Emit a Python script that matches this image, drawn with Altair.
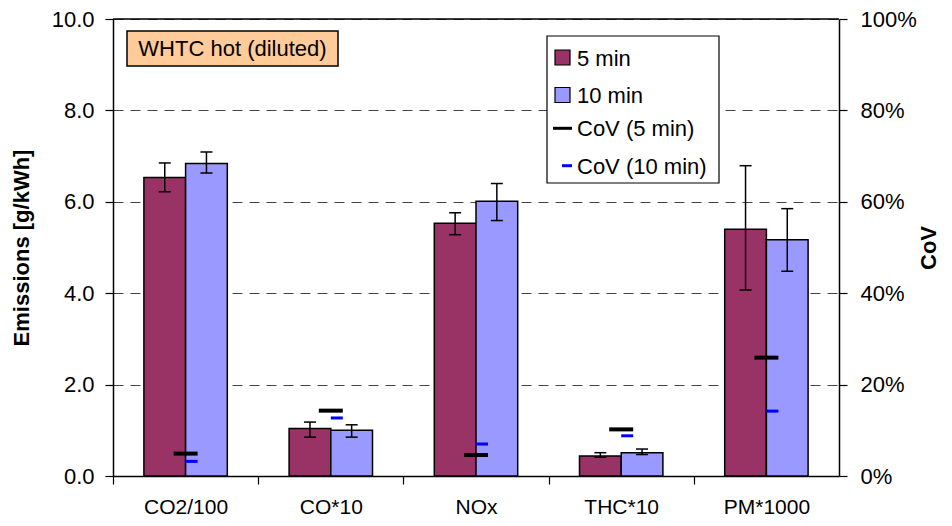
import altair as alt
import pandas as pd

categories = ["CO2/100", "CO*10", "NOx", "THC*10", "PM*1000"]
series = ["5 min", "10 min"]
mean_5 = [6.53, 1.04, 5.53, 0.44, 5.40]
mean_10 = [6.84, 1.00, 6.01, 0.51, 5.17]
err_lo_5 = [6.22, 0.85, 5.28, 0.41, 4.07]
err_hi_5 = [6.85, 1.18, 5.76, 0.51, 6.79]
err_lo_10 = [6.63, 0.85, 5.59, 0.47, 4.48]
err_hi_10 = [7.09, 1.12, 6.40, 0.59, 5.85]
cov_5 = [0.049, 0.143, 0.046, 0.102, 0.259]
cov_10 = [0.032, 0.127, 0.070, 0.088, 0.142]
left_ticks = [0, 2, 4, 6, 8, 10]
right_ticks = [0, 0.2, 0.4, 0.6, 0.8, 1.0]
legend_labels = ["5 min", "10 min", "CoV (5 min)", "CoV (10 min)"]
colors = ["#993366", "#9999FF"]
cov_colors = ["#000000", "#0000FF"]

FONT = "Liberation Sans"
W, H = 726, 457
TOP = 11
# y of annotation items given relative to the reference plot top (16px page)
dy = -(TOP - 8)

rows = []
for i, c in enumerate(categories):
    rows.append(dict(cat=c, series="5 min", mean=mean_5[i], lo=err_lo_5[i], hi=err_hi_5[i], cov=cov_5[i]))
    rows.append(dict(cat=c, series="10 min", mean=mean_10[i], lo=err_lo_10[i], hi=err_hi_10[i], cov=cov_10[i]))
df = pd.DataFrame(rows)

step = W / len(categories)
xscale = alt.Scale(domain=categories, paddingInner=0.4256, paddingOuter=0.2128)
xoff = alt.XOffset("series:N", scale=alt.Scale(domain=series, paddingInner=0, paddingOuter=0))
x_enc = alt.X("cat:N", scale=xscale, sort=categories, title=None,
              axis=alt.Axis(labelFontSize=21, labelFont=FONT, labelColor="#000", labelAngle=0,
                            tickSize=8, tickColor="#000", tickWidth=1.2, tickOffset=-step / 2,
                            labelOffset=step / 2, labelPadding=12, domainColor="#000",
                            domainWidth=1.5, grid=False))
yscale = alt.Scale(domain=[0, 10], nice=False)
y_axis = alt.Axis(values=left_ticks, format=".1f", labelFontSize=22, labelFont=FONT,
                  labelColor="#000", tickSize=8, tickColor="#000", tickWidth=1.2,
                  labelPadding=11, domainColor="#000", domainWidth=1.5,
                  grid=True, gridDash=[10, 7], gridColor="#444", gridWidth=1,
                  title="Emissions [g/kWh]", titleFont=FONT, titleFontSize=22,
                  titleFontWeight="bold", titleColor="#000", titlePadding=18)

base = alt.Chart(df)
bars = base.mark_bar(stroke="#000", strokeWidth=1.5, opacity=1).encode(
    x=x_enc, xOffset=xoff,
    y=alt.Y("mean:Q", scale=yscale, axis=y_axis),
    fill=alt.Fill("series:N", scale=alt.Scale(domain=series, range=colors), legend=None),
)
err_rule = base.mark_rule(color="#000", strokeWidth=1.5, opacity=1).encode(
    x=alt.X("cat:N", scale=xscale, sort=categories), xOffset=xoff,
    y=alt.Y("lo:Q", scale=yscale), y2="hi:Q")
cap_lo = base.mark_tick(color="#000", size=12, thickness=1.5, opacity=1).encode(
    x=alt.X("cat:N", scale=xscale, sort=categories), xOffset=xoff,
    y=alt.Y("lo:Q", scale=yscale))
cap_hi = base.mark_tick(color="#000", size=12, thickness=1.5, opacity=1).encode(
    x=alt.X("cat:N", scale=xscale, sort=categories), xOffset=xoff,
    y=alt.Y("hi:Q", scale=yscale))
left = alt.layer(bars, err_rule, cap_lo, cap_hi)

cscale = alt.Scale(domain=[0, 1], nice=False)
r_axis = alt.Axis(orient="right", values=right_ticks, format=".0%", labelFontSize=22,
                  labelFont=FONT, labelColor="#000", tickSize=8, tickColor="#000",
                  tickWidth=1.2, labelPadding=13, domainColor="#000", domainWidth=1.5,
                  grid=False, title="CoV", titleFont=FONT, titleFontSize=22,
                  titleFontWeight="bold", titleColor="#000", titleAngle=270, titlePadding=24)
cov5 = alt.Chart(df[df.series == "5 min"]).mark_tick(color=cov_colors[0], size=24, thickness=4, opacity=1).encode(
    x=alt.X("cat:N", scale=xscale, sort=categories),
    y=alt.Y("cov:Q", scale=cscale, axis=r_axis))
cov10 = alt.Chart(df[df.series == "10 min"]).mark_tick(color=cov_colors[1], size=12, thickness=3, xOffset=6, opacity=1).encode(
    x=alt.X("cat:N", scale=xscale, sort=categories),
    y=alt.Y("cov:Q", scale=cscale, axis=r_axis))
right = alt.layer(cov5, cov10)

one = pd.DataFrame({"k": [0]})
top_line = alt.Chart(one).mark_rule(color="#000", strokeWidth=1.5).encode(
    x=alt.value(0), x2=alt.value(W), y=alt.value(0))

# annotation box
ann_box = alt.Chart(one).mark_rect(fill="#FFCC99", stroke="#000", strokeWidth=1.5).encode(
    x=alt.value(14), x2=alt.value(225), y=alt.value(15 + dy), y2=alt.value(50 + dy))
ann_txt = alt.Chart(pd.DataFrame({"t": ["WHTC hot (diluted)"]})).mark_text(
    font=FONT, fontSize=22, color="#000", align="center", baseline="middle").encode(
    text="t:N", x=alt.value(119.5), y=alt.value(33 + dy))

# legend
leg_box = alt.Chart(one).mark_rect(fill="#FFF", stroke="#000", strokeWidth=1.2).encode(
    x=alt.value(434), x2=alt.value(606), y=alt.value(20 + dy), y2=alt.value(167 + dy))
leg_layers = [leg_box]
leg_y = [41.5 + dy, 79 + dy, 112.3 + dy, 149.7 + dy]
for i in range(2):
    leg_layers.append(alt.Chart(one).mark_rect(fill=colors[i], stroke="#000", strokeWidth=1.2).encode(
        x=alt.value(442), x2=alt.value(457), y=alt.value(leg_y[i] - 7.5), y2=alt.value(leg_y[i] + 7.5)))
leg_layers.append(alt.Chart(one).mark_rule(color=cov_colors[0], strokeWidth=3).encode(
    x=alt.value(440), x2=alt.value(459), y=alt.value(leg_y[2])))
leg_layers.append(alt.Chart(one).mark_rule(color=cov_colors[1], strokeWidth=3).encode(
    x=alt.value(449), x2=alt.value(459), y=alt.value(leg_y[3])))
for i, lab in enumerate(legend_labels):
    leg_layers.append(alt.Chart(pd.DataFrame({"t": [lab]})).mark_text(
        font=FONT, fontSize=22, color="#000", align="left", baseline="middle").encode(
        text="t:N", x=alt.value(464), y=alt.value(leg_y[i] + 1)))

chart = alt.layer(left, right, top_line, ann_box, ann_txt, *leg_layers).resolve_scale(
    y="independent").properties(
    width=W, height=H,
    autosize=alt.AutoSizeParams(type="none"),
    padding={"left": 105, "top": TOP, "right": 105, "bottom": 42},
).configure_view(stroke=None).configure(background="#FFFFFF")

chart.save("out.html", embed_options={"renderer": "svg", "actions": False})
